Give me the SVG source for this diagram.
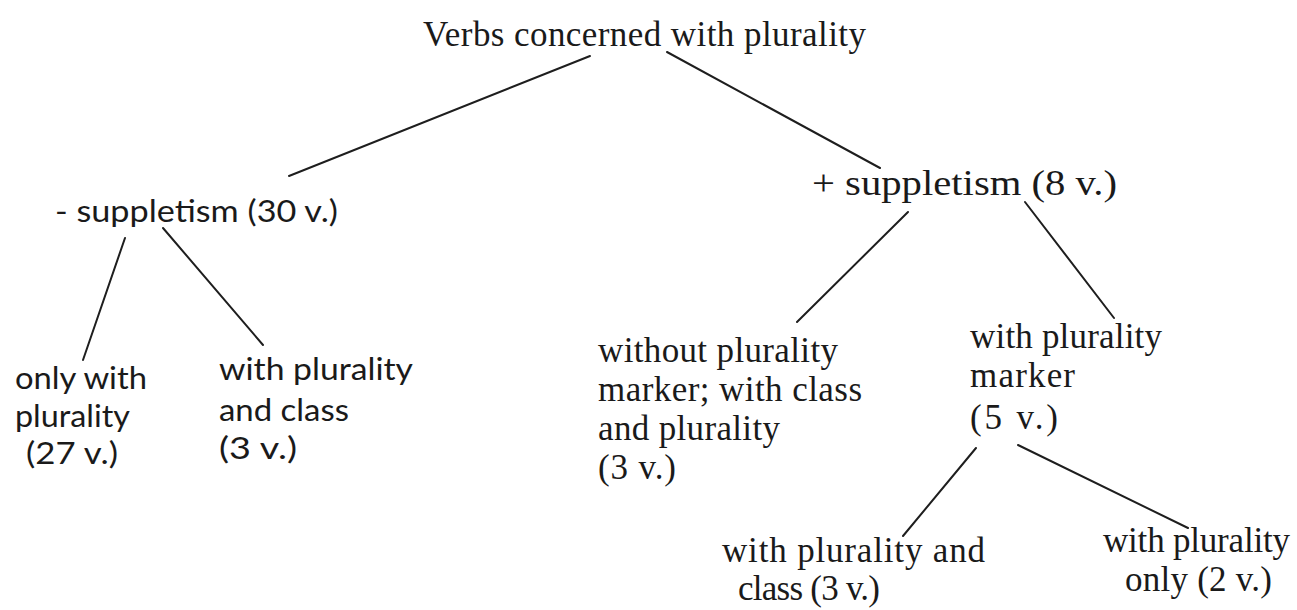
<svg xmlns="http://www.w3.org/2000/svg" width="1297" height="610" viewBox="0 0 1297 610">
  <style>
    .t { font-family: "Liberation Serif", "Times New Roman", serif; font-size: 35px; fill: #1a1a1a; }
    .s { font-family: Lato, "Liberation Sans", sans-serif; font-size: 30px; fill: #1a1a1a; }
    .edge { stroke: #1e1e1e; stroke-width: 2; fill: none; stroke-linecap: round; }
  </style>
  <rect width="1297" height="610" fill="#ffffff"/>

  <g id="connectors">
    <line class="edge" x1="590" y1="56" x2="289" y2="176"/>
    <line class="edge" x1="667" y1="52" x2="880" y2="168"/>
    <line class="edge" x1="125" y1="238" x2="83" y2="360"/>
    <line class="edge" x1="163" y1="228" x2="263" y2="345"/>
    <line class="edge" x1="908" y1="212" x2="797" y2="322"/>
    <line class="edge" x1="1025" y1="202" x2="1114" y2="318"/>
    <line class="edge" x1="976" y1="448" x2="903" y2="536"/>
    <line class="edge" x1="1018" y1="445" x2="1188" y2="528"/>
  </g>

  <g id="root">
    <text class="t" x="423" y="46" textLength="443" lengthAdjust="spacing">Verbs concerned with plurality</text>
  </g>

  <g id="minus-suppletism">
    <text class="s" x="55" y="222" textLength="283" lengthAdjust="spacingAndGlyphs">- suppletism (30 v.)</text>
  </g>

  <g id="only-with-plurality">
    <text class="s" x="15" y="389" textLength="132" lengthAdjust="spacingAndGlyphs">only with</text>
    <text class="s" x="15" y="427" textLength="115" lengthAdjust="spacingAndGlyphs">plurality</text>
    <text class="s" x="26" y="464" textLength="92" lengthAdjust="spacingAndGlyphs">(27 v.)</text>
  </g>

  <g id="with-plurality-and-class-left">
    <text class="s" x="219" y="380" textLength="194" lengthAdjust="spacingAndGlyphs">with plurality</text>
    <text class="s" x="219" y="421" textLength="130" lengthAdjust="spacingAndGlyphs">and class</text>
    <text class="s" x="219" y="459" textLength="78" lengthAdjust="spacingAndGlyphs">(3 v.)</text>
  </g>

  <g id="plus-suppletism">
    <text class="t" x="812" y="195" font-size="37" textLength="305" lengthAdjust="spacingAndGlyphs">+ suppletism (8 v.)</text>
  </g>

  <g id="without-marker">
    <text class="t" x="598" y="362" textLength="240" lengthAdjust="spacing">without plurality</text>
    <text class="t" x="598" y="401" textLength="264" lengthAdjust="spacing">marker; with class</text>
    <text class="t" x="598" y="440" textLength="182" lengthAdjust="spacing">and plurality</text>
    <text class="t" x="598" y="479" textLength="78" lengthAdjust="spacing">(3 v.)</text>
  </g>

  <g id="with-marker">
    <text class="t" x="970" y="348" textLength="192" lengthAdjust="spacing">with plurality</text>
    <text class="t" x="970" y="387" textLength="105" lengthAdjust="spacing">marker</text>
    <text class="t" x="970" y="429" textLength="88" lengthAdjust="spacing">(5 v.)</text>
  </g>

  <g id="with-plurality-and-class-right">
    <text class="t" x="722" y="562" textLength="263" lengthAdjust="spacing">with plurality and</text>
    <text class="t" x="738" y="600" textLength="142" lengthAdjust="spacing">class (3 v.)</text>
  </g>

  <g id="with-plurality-only">
    <text class="t" x="1103" y="552" textLength="187" lengthAdjust="spacing">with plurality</text>
    <text class="t" x="1125" y="591" textLength="147" lengthAdjust="spacing">only (2 v.)</text>
  </g>
</svg>
